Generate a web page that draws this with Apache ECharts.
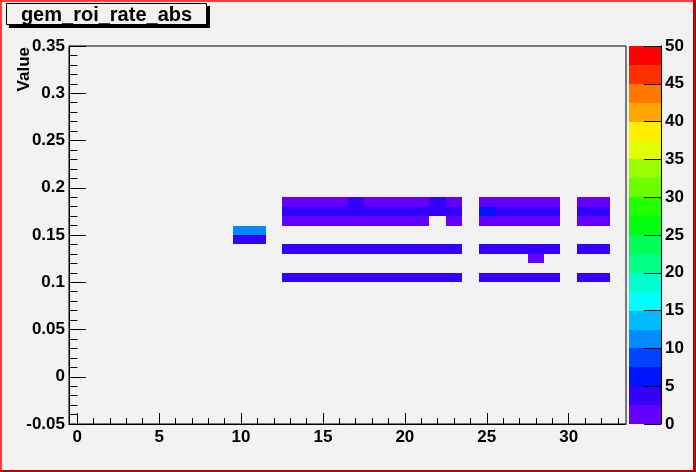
<!DOCTYPE html>
<html>
<head>
<meta charset="utf-8">
<script src="https://cdn.jsdelivr.net/npm/echarts@6/dist/echarts.min.js"></script>
<style>
  html, body { margin: 0; padding: 0; background: #f2f2f2; }
  #chart { width: 696px; height: 472px; }
</style>
</head>
<body>
<div id="chart"></div>
<script>
const titleText = 'gem_roi_rate_abs'
const yAxisTitle = 'Value'
const xTickLabels = [0, 5, 10, 15, 20, 25, 30]
const xMinorTicks = [0, 1, 2, 3, 4, 5, 6, 7, 8, 9, 10, 11, 12, 13, 14, 15, 16, 17, 18, 19, 20, 21, 22, 23, 24, 25, 26, 27, 28, 29, 30, 31, 32, 33]
const zMax = 50
// 20 contour levels, ROOT pretty palette (violet -> red)
const paletteColors = [
  '#6300ff', '#3300ff', '#0014ff', '#0044ff', '#008bff',
  '#00bbff', '#00fffc', '#00ffcc', '#00ff85', '#00ff55',
  '#00ff0e', '#22ff00', '#69ff00', '#99ff00', '#e0ff00',
  '#ffee00', '#ffa700', '#ff7700', '#ff3000', '#ff0000'
]

const yBinWidth = 0.01
const yBinLows = [0.18, 0.17, 0.16, 0.15, 0.14, 0.13, 0.12, 0.10]
// one row per yBinLows entry, one value per x bin 0..33, null = empty
const _ = null
const rowCounts = [
  [_, _, _, _, _, _, _, _, _, _, _, _, _, 2, 2, 2, 2, 4, 2, 2, 2, 2, 4, 2, _, 2, 2, 2, 2, 2, _, 2, 2, _],
  [_, _, _, _, _, _, _, _, _, _, _, _, _, 4, 4, 4, 4, 4, 4, 4, 4, 4, 4, 4, _, 6, 4, 4, 4, 4, _, 4, 4, _],
  [_, _, _, _, _, _, _, _, _, _, _, _, _, 2, 2, 2, 2, 2, 2, 2, 2, 2, _, 2, _, 2, 2, 2, 2, 2, _, 2, 2, _],
  [_, _, _, _, _, _, _, _, _, _, 11, 11, _, _, _, _, _, _, _, _, _, _, _, _, _, _, _, _, _, _, _, _, _, _],
  [_, _, _, _, _, _, _, _, _, _, 4, 4, _, _, _, _, _, _, _, _, _, _, _, _, _, _, _, _, _, _, _, _, _, _],
  [_, _, _, _, _, _, _, _, _, _, _, _, _, 4, 4, 4, 4, 4, 4, 4, 4, 4, 4, 4, _, 4, 4, 4, 4, 4, _, 4, 4, _],
  [_, _, _, _, _, _, _, _, _, _, _, _, _, _, _, _, _, _, _, _, _, _, _, _, _, _, _, _, 2, _, _, _, _, _],
  [_, _, _, _, _, _, _, _, _, _, _, _, _, 4, 4, 4, 4, 4, 4, 4, 4, 4, 4, 4, _, 4, 4, 4, 4, 4, _, 4, 4, _]
]

const cells = []
rowCounts.forEach(function (row, r) {
  row.forEach(function (v, x) {
    if (v !== null) cells.push([x, yBinLows[r], v])
  })
})

function levelColor (v) {
  let k = Math.floor(v / (zMax / paletteColors.length))
  k = Math.max(0, Math.min(paletteColors.length - 1, k))
  return paletteColors[k]
}

// snap a box to whole pixels so neighbouring cells leave no seams
function snapRect (p0, p1, fill) {
  const x0 = Math.round(p0[0])
  const y0 = Math.round(p0[1])
  const x1 = Math.round(p1[0])
  const y1 = Math.round(p1[1])
  return {
    type: 'rect',
    shape: { x: x0, y: y0, width: x1 - x0, height: y1 - y0 },
    style: { fill: fill }
  }
}

const font = { fontFamily: 'Liberation Sans', fontWeight: 'bold', fontSize: 17, color: '#000' }
const black = { color: '#000', width: 1 }

const chart = echarts.init(document.getElementById('chart'))
chart.setOption({
  animation: false,
  backgroundColor: '#f2f2f2',
  grid: [
    { left: 69, right: 70, top: 46, bottom: 48, show: true, borderColor: '#000', borderWidth: 1, backgroundColor: 'transparent' },
    { left: 629, width: 32, top: 46, bottom: 48 }
  ],
  xAxis: [
    {
      type: 'value', gridIndex: 0, min: -0.5, max: 33.5, position: 'bottom', z: 10,
      axisLine: { show: true, onZero: false, lineStyle: black },
      axisTick: { show: true, inside: true, length: 11, customValues: xTickLabels, lineStyle: black },
      axisLabel: Object.assign({ customValues: xTickLabels, margin: 5 }, font),
      splitLine: { show: false }
    },
    {
      type: 'value', gridIndex: 0, min: -0.5, max: 33.5, position: 'bottom', z: 10,
      axisLine: { show: false, onZero: false },
      axisTick: { show: true, inside: true, length: 6, customValues: xMinorTicks, lineStyle: black },
      axisLabel: { show: false },
      splitLine: { show: false }
    },
    { type: 'value', gridIndex: 1, min: 0, max: 1, show: false }
  ],
  yAxis: [
    {
      type: 'value', gridIndex: 0, min: -0.05, max: 0.35, interval: 0.05, z: 10,
      axisLine: { show: true, onZero: false, lineStyle: black },
      axisTick: { show: true, inside: true, length: 17, lineStyle: black },
      minorTick: { show: true, splitNumber: 5, length: 8.5, lineStyle: black },
      axisLabel: Object.assign({ margin: 4 }, font),
      splitLine: { show: false }
    },
    {
      type: 'value', gridIndex: 1, min: 0, max: zMax, interval: 5, position: 'right', z: 10,
      axisLine: { show: true, onZero: false, lineStyle: black },
      axisTick: { show: true, inside: true, length: 17, lineStyle: black },
      axisLabel: Object.assign({ margin: 4 }, font),
      splitLine: { show: false }
    }
  ],
  series: [
    {
      type: 'custom',
      xAxisIndex: 0,
      yAxisIndex: 0,
      data: cells,
      renderItem: function (params, api) {
        const x = api.value(0)
        const y = api.value(1)
        return snapRect(api.coord([x - 0.5, y + yBinWidth]), api.coord([x + 0.5, y]), levelColor(api.value(2)))
      }
    },
    {
      type: 'custom',
      xAxisIndex: 2,
      yAxisIndex: 1,
      data: paletteColors.map(function (c, i) { return [i] }),
      renderItem: function (params, api) {
        const i = api.value(0)
        const step = zMax / paletteColors.length
        return snapRect(api.coord([0, (i + 1) * step]), api.coord([1, i * step]), paletteColors[i])
      }
    }
  ],
  graphic: [
    // canvas border
    { type: 'rect', left: 0, top: 0, shape: { width: 696, height: 2 }, style: { fill: '#ff3c3c' }, z: 100 },
    { type: 'rect', left: 0, top: 0, shape: { width: 2, height: 472 }, style: { fill: '#ff3c3c' }, z: 100 },
    { type: 'rect', left: 693, top: 0, shape: { width: 3, height: 472 }, style: { fill: '#c00000' }, z: 100 },
    { type: 'rect', left: 0, top: 470, shape: { width: 696, height: 2 }, style: { fill: '#c00000' }, z: 100 },
    // title box with shadow
    { type: 'rect', left: 9, top: 6, shape: { width: 201, height: 22 }, style: { fill: '#000' }, z: 100 },
    { type: 'rect', left: 6, top: 3, shape: { x: 0.5, y: 0.5, width: 200, height: 21 }, style: { fill: '#f2f2f2', stroke: '#000', lineWidth: 1 }, z: 101 },
    {
      type: 'text', x: 106.5, y: 15, z: 102,
      style: { text: titleText, font: 'bold 20px "Liberation Sans"', fill: '#000', align: 'center', verticalAlign: 'middle' }
    },
    {
      type: 'text', x: 24, y: 47, rotation: Math.PI / 2, z: 102,
      style: { text: yAxisTitle, font: 'bold 17px "Liberation Sans"', fill: '#000', align: 'right', verticalAlign: 'middle' }
    }
  ]
})
</script>
</body>
</html>
